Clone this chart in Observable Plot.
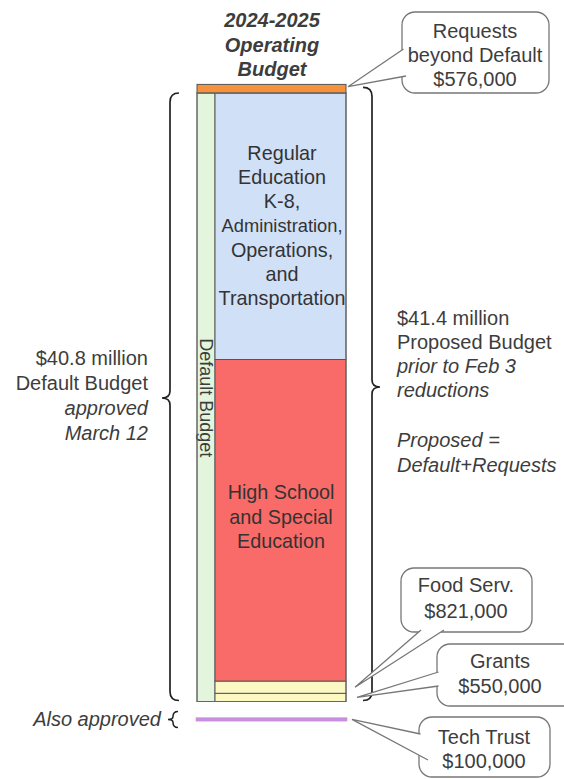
<!DOCTYPE html>
<html><head><meta charset="utf-8">
<script src="https://cdn.jsdelivr.net/npm/d3@7"></script>
<script src="https://cdn.jsdelivr.net/npm/@observablehq/plot@0.6"></script>
<style>
body{margin:0;background:#fff}
#chart svg{display:block}
</style>
</head><body><div id="chart"></div>
<script>
// ---- data (millions of dollars) ----
const segments = ["Grants", "Food Serv.", "High School and Special Education",
  "Regular Education K-8, Administration, Operations, and Transportation", "Requests beyond Default"];
const amounts = [0.55, 0.821, 21.56, 17.869, 0.576];
const colors = ["#fbf8c4", "#fbf8c4", "#f96b68", "#d0e0f7", "#f6923c"];
const defaultBudget = 40.8;
const proposedBudget = 41.376;
const techTrust = 0.1;
const regLines = ["Regular", "Education", "K-8,", "Administration,", "Operations,", "and", "Transportation"];
const hsLines = ["High School", "and Special", "Education"];

// stacked table
let acc = 0;
const stack = segments.map((s, i) => { const r = {name: s, y1: acc, y2: acc + amounts[i], fill: colors[i], i}; acc += amounts[i]; return r; });

// ---- layout ----
const W = 564, H = 779;
const pxPerM = 608.5 / defaultBudget;
const yMin = -(H - 701.5) / pxPerM, yMax = 701.5 / pxPerM;
const barX1 = 215, barX2 = 346, stripX1 = 197;
const FONT = "Liberation Sans, Arial, sans-serif";
const TXT = "#3d3d3d";
const FS = 20;

function mid(i) { return (stack[i].y1 + stack[i].y2) / 2; }

const regText = regLines.map((t, k) => ({t, y: mid(3) - (-73 + k * 24.2) / pxPerM, size: t === "Administration," ? 18.3 : 19.8}));
const hsText = hsLines.map((t, k) => ({t, y: mid(2) - (-28 + k * 24.5) / pxPerM}));

function annotations(index, scales) {
  const x = scales.x, y = scales.y;
  const g = d3.create("svg:g").attr("font-family", FONT).attr("fill", TXT);
  const text = (lines, x0, anchor, style, size = FS, weight = "normal") => {
    for (const [t, yy, it] of lines) {
      g.append("text").attr("x", x0).attr("y", yy).attr("dy", "0.35em")
        .attr("text-anchor", anchor).attr("font-size", size).attr("font-weight", weight)
        .attr("font-style", it ? "italic" : style).text(t);
    }
  };
  // title
  text([["2024-2025", 20], ["Operating", 45], ["Budget", 69]], 272, "middle", "italic", 20, "bold");
  // braces
  const brace = (x0, yT, yB, yM, dir) => {
    const d = `M${x0 - 9*dir},${yT} Q${x0},${yT} ${x0},${yT + 9} L${x0},${yM - 7} Q${x0},${yM} ${x0 + 8*dir},${yM} Q${x0},${yM} ${x0},${yM + 7} L${x0},${yB - 9} Q${x0},${yB} ${x0 - 9*dir},${yB}`;
    g.append("path").attr("d", d).attr("fill", "none").attr("stroke", "#222").attr("stroke-width", 1.7);
  };
  brace(372, y(proposedBudget) + 3, y(0) - 1, 387, 1);
  brace(170, y(defaultBudget), y(0) - 1, 398, -1);
  // small brace for Also approved
  const yt = y(-1.2);
  g.append("path").attr("d", `M178,${yt-8} Q173,${yt-8} 173,${yt-3} Q173,${yt} 168,${yt} Q173,${yt} 173,${yt+3} Q173,${yt+8} 178,${yt+8}`)
    .attr("fill", "none").attr("stroke", "#222").attr("stroke-width", 1.5);
  text([["Also approved", yt, true]], 161, "end", "italic", FS);
  // side texts
  text([["$40.8 million", 358], ["Default Budget", 383], ["approved", 408, true], ["March 12", 433, true]], 148, "end", "normal");
  text([["$41.4 million", 318], ["Proposed Budget", 342], ["prior to Feb 3", 366, true], ["reductions", 390, true],
        ["Proposed =", 440, true], ["Default+Requests", 465, true]], 397, "start", "normal");
  // callouts
  const callout = (bx, by, bw, bh, tip, b1, b2, lines, cx) => {
    g.append("rect").attr("x", bx).attr("y", by).attr("width", bw).attr("height", bh).attr("rx", 13)
      .attr("fill", "#fff").attr("stroke", "#777").attr("stroke-width", 1.3);
    g.append("path").attr("d", `M${b1[0]},${b1[1]} L${tip[0]},${tip[1]} L${b2[0]},${b2[1]}`)
      .attr("fill", "#fff").attr("stroke", "#777").attr("stroke-width", 1.3);
    text(lines, cx, "middle", "normal", FS);
  };
  callout(402, 12, 147, 81, [348, y(defaultBudget + amounts[4] / 2) - 2], [403.5, 49], [406, 76],
    [["Requests", 31], ["beyond Default", 55], ["$576,000", 79]], 475);
  callout(401, 568, 131, 64, [355, y(mid(1))], [421, 630], [444, 630],
    [["Food Serv.", 585], ["$821,000", 611]], 466);
  callout(437, 644, 140, 62, [357, y(mid(0))], [438.5, 672], [438.5, 686],
    [["Grants", 661], ["$550,000", 686]], 500);
  callout(419, 717, 131, 60, [352, y(-1.2)], [420.5, 734], [428, 760],
    [["Tech Trust", 737], ["$100,000", 761]], 484);
  return g.node();
}

const chart = Plot.plot({
  width: W, height: H,
  margin: 0,
  x: {domain: [0, W], axis: null},
  y: {domain: [yMin, yMax], axis: null},
  style: {fontFamily: FONT, background: "#fff"},
  marks: [
    // default budget strip
    Plot.rect([{y1: 0, y2: defaultBudget}], {x1: stripX1, x2: barX1, y1: "y1", y2: "y2", fill: "#e3f5dc", stroke: "#666", strokeWidth: 1}),
    Plot.text(["Default Budget"], {x: (stripX1 + barX1) / 2 - 0.5, y: defaultBudget / 2, text: d => d, rotate: 90,
      fontSize: 18, fill: TXT}),
    // stacked budget bar (requests segment spans the full width)
    Plot.rect(stack, {x1: d => d.i === 4 ? stripX1 : barX1, x2: barX2, y1: "y1", y2: "y2", fill: "fill", stroke: "#555", strokeWidth: 1, title: "name"}),
    // outline of default-budget part overall
    Plot.rect([{y1: 0, y2: defaultBudget}], {x1: stripX1, x2: barX2, y1: "y1", y2: "y2", fill: "none", stroke: "#666", strokeWidth: 1}),
    // tech trust
    Plot.rect([{y1: -1.15, y2: -1.15 - techTrust}], {x1: stripX1, x2: barX2, y1: "y1", y2: "y2", fill: "#c890dc", stroke: "#c890dc", strokeWidth: 2.6}),
    // bar labels
    Plot.text(regText, {x: (barX1 + barX2) / 2 + 1, y: "y", text: "t", fontSize: d => d.size, fill: "#333"}),
    Plot.text(hsText, {x: (barX1 + barX2) / 2, y: "y", text: "t", fontSize: 19.8, fill: "#333"}),
    annotations
  ]
});
document.getElementById("chart").appendChild(chart);
</script>
</body></html>
